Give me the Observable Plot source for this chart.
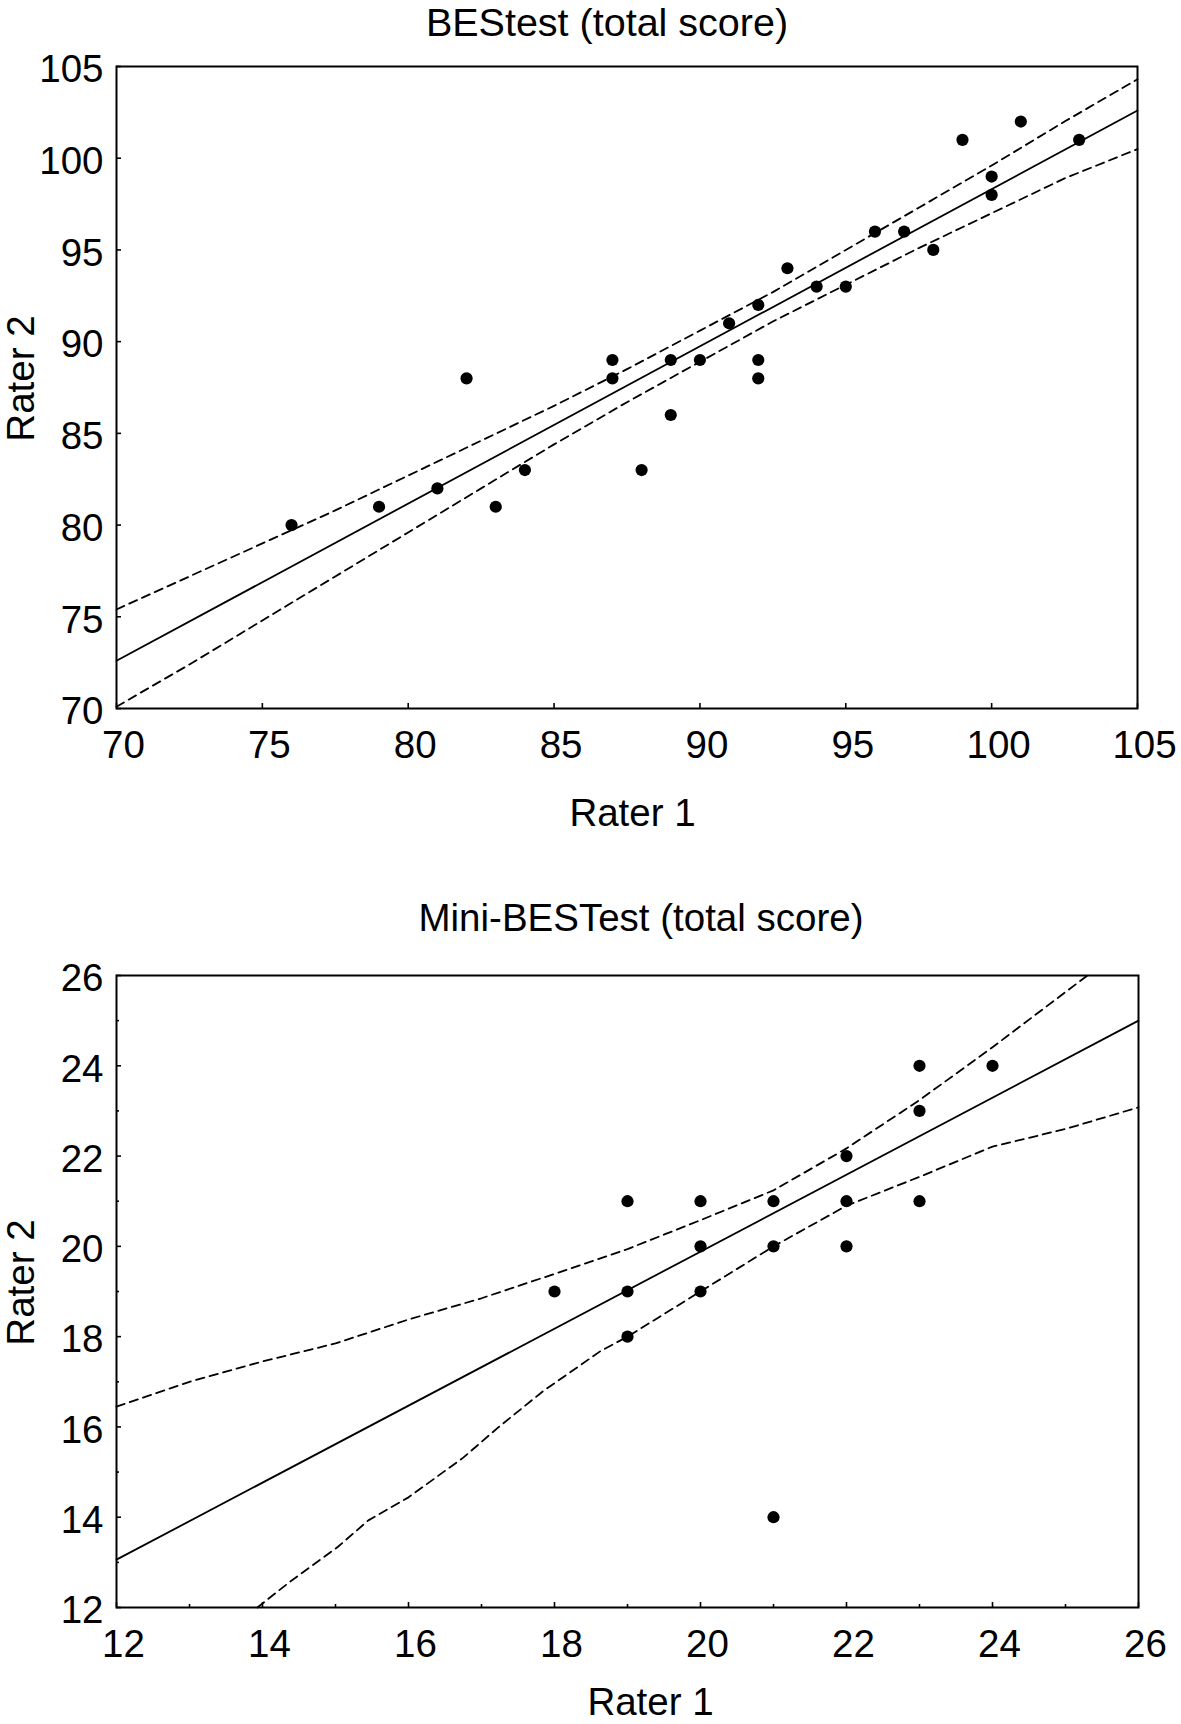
<!DOCTYPE html>
<html>
<head>
<meta charset="utf-8">
<script src="https://cdn.jsdelivr.net/npm/d3@7"></script>
<script src="https://cdn.jsdelivr.net/npm/@observablehq/plot@0.6"></script>
<style>
  body { margin: 0; background: #fff; }
  #wrap { position: relative; width: 1181px; height: 1724px; overflow: hidden;
          font-family: "Liberation Sans", Arial, Helvetica, sans-serif; color: #000; }
  .title { position: absolute; line-height: 44px; height: 44px;
           white-space: nowrap; transform: translateX(-50%); }
  .chart { position: absolute; left: 0; }
</style>
</head>
<body>
<div id="wrap">
  <div class="chart" id="c1" style="top:32px"></div>
  <div class="chart" id="c2" style="top:935px"></div>
  <div class="title" id="t1" style="top:0px;left:607px;font-size:39.5px"></div>
  <div class="title" id="t2" style="top:896px;left:641px;font-size:38.5px"></div>
</div>
<script>
// ---------- BEStest (top panel) ----------
const bestTitle = "BEStest (total score)";
const bestRater1 = [76, 79, 81, 82, 83, 84, 87, 87, 88, 89, 89, 90, 91, 92, 92, 92, 93, 94, 95, 96, 97, 98, 99, 100, 100, 101, 103];
const bestRater2 = [80, 81, 82, 88, 81, 83, 89, 88, 83, 89, 86, 89, 91, 92, 89, 88, 94, 93, 93, 96, 96, 95, 101, 99, 98, 102, 101];
const bestFitX = [70, 105];
const bestFitY = [72.6, 102.6];
const bestBandX = [70, 72.5, 75, 77.5, 80, 82.5, 85, 87.5, 90, 92.5, 95, 97.5, 100, 102.5, 105];
const bestUpper = [75.4, 77.2, 79.0, 80.8, 82.7, 84.6, 86.5, 88.5, 90.6, 92.7, 95.0, 97.3, 99.6, 102.0, 104.3];
const bestLower = [70.1, 72.4, 74.8, 77.2, 79.6, 82.0, 84.4, 86.7, 88.9, 91.1, 93.1, 95.1, 97.0, 98.9, 100.5];
const bestTicks = [70, 75, 80, 85, 90, 95, 100, 105];

// ---------- Mini-BESTest (bottom panel) ----------
const miniTitle = "Mini-BESTest (total score)";
const miniRater1 = [18, 19, 19, 19, 20, 20, 20, 21, 21, 21, 22, 22, 22, 23, 23, 23, 24];
const miniRater2 = [19, 21, 19, 18, 21, 20, 19, 21, 20, 14, 22, 21, 20, 24, 23, 21, 24];
const miniFitX = [12, 26];
const miniFitY = [13.06, 25.0];
const miniUpperX = [12, 13, 14, 15, 16, 17, 18, 19, 20, 21, 22, 23, 24, 25.3];
const miniUpperY = [16.45, 17.0, 17.45, 17.85, 18.38, 18.85, 19.39, 19.94, 20.58, 21.24, 22.17, 23.24, 24.41, 26.0];
const miniLowerX = [13.93, 14.4, 15.03, 15.45, 16.0, 16.75, 17.23, 17.85, 18.63, 19, 20, 21, 22, 23, 24, 25, 26];
const miniLowerY = [12.0, 12.6, 13.34, 13.93, 14.44, 15.32, 15.99, 16.8, 17.68, 18.0, 19.0, 20.0, 20.9, 21.54, 22.21, 22.6, 23.08];
const miniMajorTicks = [12, 14, 16, 18, 20, 22, 24, 26];
const miniMinorTicks = [13, 15, 17, 19, 21, 23, 25];

const xLabelText = "Rater 1";
const yLabelText = "Rater 2";

const FONT = '"Liberation Sans", Arial, Helvetica, sans-serif';
const FS = 38.5;
const DASH = "8.5,5.5";

const zipXY = (xs, ys) => xs.map((x, i) => ({x, y: ys[i]}));

function makeChart(o) {
  const marks = [
    Plot.frame({stroke: "#000", strokeWidth: 2}),
    // inward ticks
    Plot.axisX(o.majorTicks, {tickSize: -5, fill: "none", label: null, strokeWidth: 1.6}),
    Plot.axisY(o.majorTicks, {tickSize: -5, fill: "none", label: null, strokeWidth: 1.6}),
  ];
  if (o.minorTicks) {
    marks.push(Plot.axisX(o.minorTicks, {tickSize: -3, fill: "none", label: null, strokeWidth: 1.6}));
    marks.push(Plot.axisY(o.minorTicks, {tickSize: -3, fill: "none", label: null, strokeWidth: 1.6}));
  }
  marks.push(
    // tick labels
    Plot.axisX(o.majorTicks, {tickSize: 0, tickPadding: 22, dx: 7, label: null, fontSize: FS, fill: "#000"}),
    Plot.axisY(o.majorTicks, {tickSize: 0, tickPadding: 13, dy: 3.5, label: null, fontSize: FS, fill: "#000"}),
    // confidence limits (dashed)
    Plot.line(o.upper, {x: "x", y: "y", stroke: "#000", strokeWidth: 1.8, strokeDasharray: DASH}),
    Plot.line(o.lower, {x: "x", y: "y", stroke: "#000", strokeWidth: 1.8, strokeDasharray: DASH}),
    // regression line
    Plot.line(o.fit, {x: "x", y: "y", stroke: "#000", strokeWidth: 1.8}),
    // points
    Plot.dot(o.points, {x: "x", y: "y", r: 6.1, fill: "#000", stroke: "none"}),
    // axis titles
    Plot.text([xLabelText], {text: d => d, frameAnchor: "bottom", textAnchor: "middle", lineAnchor: "bottom",
      dx: o.xLabDx, dy: o.xLabDy, fontSize: FS, fill: "#000"}),
    Plot.text([yLabelText], {text: d => d, frameAnchor: "left", textAnchor: "middle", lineAnchor: "bottom", rotate: -90,
      dx: o.yLabDx, dy: o.yLabDy, fontSize: FS, fill: "#000"})
  );
  return Plot.plot({
    width: 1181,
    height: o.height,
    marginTop: o.marginTop,
    marginBottom: o.marginBottom,
    marginLeft: o.marginLeft,
    marginRight: o.marginRight,
    x: {domain: o.xDomain},
    y: {domain: o.yDomain},
    style: {fontFamily: FONT, fontSize: FS + "px", color: "#000", background: "transparent", overflow: "visible"},
    marks
  });
}

document.getElementById("t1").textContent = bestTitle;
document.getElementById("t2").textContent = miniTitle;

document.getElementById("c1").append(makeChart({
  height: 828, marginTop: 34, marginBottom: 152, marginLeft: 116, marginRight: 44,
  xDomain: [70, 105], yDomain: [70, 105],
  majorTicks: bestTicks,
  upper: zipXY(bestBandX, bestUpper),
  lower: zipXY(bestBandX, bestLower),
  fit: zipXY(bestFitX, bestFitY),
  points: zipXY(bestRater1, bestRater2),
  xLabDx: 5.5, xLabDy: 117, yLabDx: -83, yLabDy: -9
}));

document.getElementById("c2").append(makeChart({
  height: 789, marginTop: 40, marginBottom: 117, marginLeft: 116, marginRight: 43,
  xDomain: [12, 26], yDomain: [12, 26],
  majorTicks: miniMajorTicks,
  minorTicks: miniMinorTicks,
  upper: zipXY(miniUpperX, miniUpperY),
  lower: zipXY(miniLowerX, miniLowerY),
  fit: zipXY(miniFitX, miniFitY),
  points: zipXY(miniRater1, miniRater2),
  xLabDx: 23, xLabDy: 107.5, yLabDx: -83, yLabDy: -9
}));
</script>
</body>
</html>
